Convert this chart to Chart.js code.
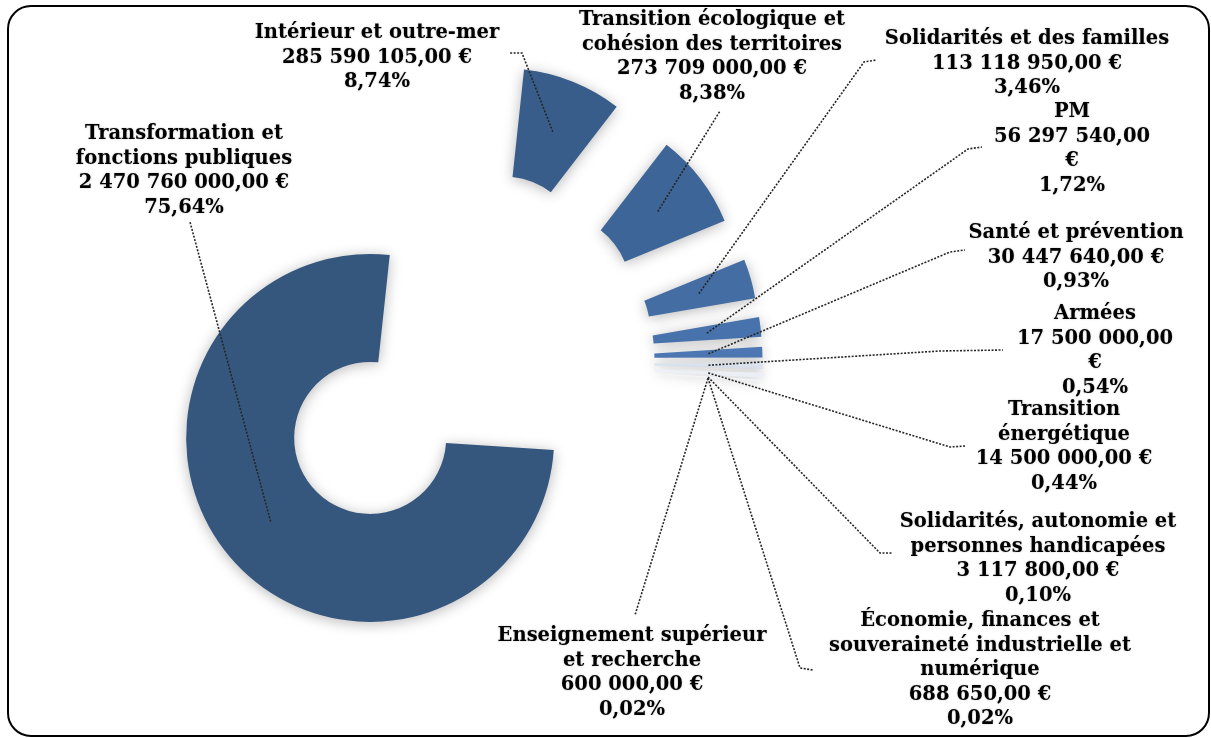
<!DOCTYPE html>
<html lang="fr">
<head>
<meta charset="UTF-8">
<title>Répartition des crédits par ministère</title>
<script src="https://cdn.jsdelivr.net/npm/chart.js"></script>
<style>
  body { margin: 0; background: #fff; }
  .cadre { position: relative; width: 1211px; height: 738px; }
  .bordure {
    position: absolute; left: 7px; top: 5px; width: 1199px; height: 728px;
    border: 2px solid #000; border-radius: 24px; pointer-events: none;
  }
</style>
</head>
<body>
<div class="cadre">
  <canvas id="graphique"></canvas>
  <div class="bordure"></div>
</div>
<script>
// Données
const categories = [
  'Transformation et\nfonctions publiques',
  'Intérieur et outre-mer',
  'Transition écologique et\ncohésion des territoires',
  'Solidarités et des familles',
  'PM',
  'Santé et prévention',
  'Armées',
  'Transition\nénergétique',
  'Solidarités, autonomie et\npersonnes handicapées',
  'Économie, finances et\nsouveraineté industrielle et\nnumérique',
  'Enseignement supérieur\net recherche'
];
const montants = [2470760000, 285590105, 273709000, 113118950, 56297540, 30447640,
                  17500000, 14500000, 3117800, 688650, 600000];
const couleurs = ['#35577e', '#395d8a', '#3e6597', '#446da4', '#4872ac', '#4d78b4',
                  '#dde6f1', '#eef2f8', '#f4f7fb', '#f7f9fc', '#f7f9fc'];

// Mise en page des étiquettes (centre du texte, lignes de rappel)
const ECLATEMENT = 118;
const INTERLIGNE = 24.5;
const etiquettes = [
  { x: 184, y: 134, fin: [[190, 222]] },
  { x: 377, y: 33, fin: [[522, 53], [510, 53]] },
  { x: 712, y: 20, fin: [[720, 111]] },
  { x: 1027, y: 39, fin: [[864, 62], [876, 60]] },
  { x: 1072, y: 112, euroSeul: true, fin: [[968, 149], [982, 147]] },
  { x: 1076, y: 233, fin: [[950, 252], [965, 250]] },
  { x: 1095, y: 314, euroSeul: true, fin: [[940, 351], [1003, 350]] },
  { x: 1064, y: 410, fin: [[950, 447], [965, 446]] },
  { x: 1038, y: 522, fin: [[880, 553], [892, 553]] },
  { x: 980, y: 621, fin: [[800, 668], [813, 670]] },
  { x: 632, y: 636, fin: [[635, 615]] }
];

const total = montants.reduce((a, b) => a + b, 0);

function formatEuro(v) {
  const [ent, dec] = v.toFixed(2).split('.');
  return ent.replace(/\B(?=(\d{3})+(?!\d))/g, ' ') + ',' + dec + ' €';
}
function pourcentage(v) {
  return (v / total * 100).toFixed(2).replace('.', ',') + '%';
}

// Parts éclatées : chaque arc est décalé le long de sa bissectrice
const pluginEclatement = {
  id: 'eclatement',
  beforeDatasetDraw(chart, args) {
    const ctx = chart.ctx;
    args.meta.data.forEach(arc => {
      const milieu = (arc.startAngle + arc.endAngle) / 2;
      ctx.save();
      ctx.shadowColor = 'rgba(0,0,0,0.28)';
      ctx.shadowBlur = 14;
      ctx.shadowOffsetY = 2;
      ctx.translate(Math.cos(milieu) * ECLATEMENT, Math.sin(milieu) * ECLATEMENT);
      arc.draw(ctx);
      ctx.restore();
    });
    return false;
  }
};

// Étiquettes avec lignes de rappel pointillées
const pluginEtiquettes = {
  id: 'etiquettes',
  afterDraw(chart) {
    const ctx = chart.ctx;
    chart.getDatasetMeta(0).data.forEach((arc, i) => {
      const milieu = (arc.startAngle + arc.endAngle) / 2;
      const r = (arc.innerRadius + arc.outerRadius) / 2 + ECLATEMENT;
      const ax = arc.x + Math.cos(milieu) * r;
      const ay = arc.y + Math.sin(milieu) * r;
      const pos = etiquettes[i];

      ctx.save();
      ctx.setLineDash([2, 1.5]);
      ctx.strokeStyle = '#262626';
      ctx.lineWidth = 1.6;
      ctx.beginPath();
      ctx.moveTo(ax, ay);
      pos.fin.forEach(p => ctx.lineTo(p[0], p[1]));
      ctx.stroke();
      ctx.restore();

      const lignes = categories[i].split('\n');
      const m = formatEuro(montants[i]);
      if (pos.euroSeul) {
        lignes.push(m.replace(' €', ''), '€');
      } else {
        lignes.push(m);
      }
      lignes.push(pourcentage(montants[i]));

      ctx.save();
      ctx.font = 'bold 19.5px "DejaVu Serif"';
      ctx.textAlign = 'center';
      ctx.textBaseline = 'middle';
      ctx.fillStyle = '#000';
      ctx.shadowColor = 'rgba(0,0,0,0.25)';
      ctx.shadowBlur = 2;
      lignes.forEach((l, k) => ctx.fillText(l, pos.x, pos.y + k * INTERLIGNE));
      ctx.restore();
    });
  }
};

new Chart(document.getElementById('graphique'), {
  type: 'doughnut',
  data: {
    labels: categories,
    datasets: [{
      data: montants,
      backgroundColor: couleurs,
      borderWidth: 0
    }]
  },
  options: {
    responsive: true,
    maintainAspectRatio: false,
    animation: false,
    rotation: 93.8,
    radius: 184,
    cutout: '41.3%',
    layout: { padding: { left: 0, top: 0, right: 290, bottom: 14 } },
    plugins: {
      legend: { display: false },
      tooltip: { enabled: false }
    }
  },
  plugins: [pluginEclatement, pluginEtiquettes]
});
</script>
</body>
</html>
